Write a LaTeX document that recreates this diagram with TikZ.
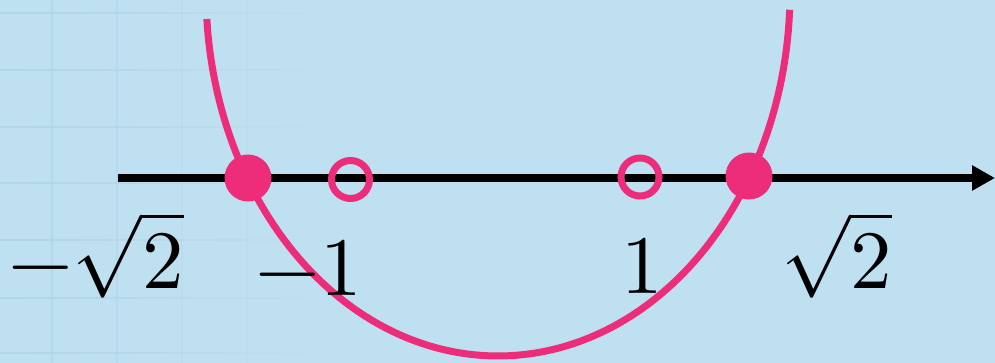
\documentclass[tikz,border=0pt]{standalone}
\usepackage{unicode-math}
\setmathfont{Latin Modern Math}
\usetikzlibrary{arrows.meta,fadings}
\definecolor{bgblue}{RGB}{191,224,241}
\definecolor{gridblue}{RGB}{178,212,232}
\definecolor{curvepink}{RGB}{238,45,122}
\tikzset{
  axisline/.style={black, line width=8pt, -{Triangle[length=23pt,width=24pt]}},
  curveline/.style={curvepink, line width=7pt},
  fulldot/.style={circle, fill=curvepink, inner sep=0pt, minimum size=47pt},
  holedot/.style={circle, draw=curvepink, line width=7pt, inner sep=0pt, minimum size=38pt},
  numlabel/.style={anchor=base, inner sep=0pt, font=\fontsize{83}{90}\selectfont},
  gridline/.style={gridblue, line width=2pt},
}
\begin{document}
\begin{tikzpicture}[x=1pt,y=-1pt]
\fill[bgblue] (0,0) rectangle (995,363);
\useasboundingbox (0,0) rectangle (995,363);
% faint background grid
\foreach \gy in {13,70,127,183,240,298,353}{
  \draw[gridline, path fading=east] (0,\gy) -- (330,\gy);
}
\draw[gridline, opacity=0.7] (52,0) -- (52,363);
\draw[gridline, opacity=0.5] (117,0) -- (117,363);
\draw[gridline, opacity=0.3] (182,0) -- (182,363);
\draw[gridline, opacity=0.12] (247,0) -- (247,363);
% curve
\draw[curveline] plot[smooth, domain=175.75:2.8, samples=90] ({498+292*cos(\x)},{-8+364*sin(\x)});
% axis
\coordinate (axL) at (118,178);
\coordinate (axR) at (995,178);
\draw[axisline] (axL) -- (axR);
% points
\node[fulldot] (pL) at (248,178) {};
\node[fulldot] (pR) at (749,176) {};
\node[holedot] (hL) at (350.5,179.5) {};
\node[holedot] (hR) at (640,177) {};
% labels
\node[numlabel] (lA) at (96,288) {$-\sqrt{2}$};
\node[numlabel] (lB) at (309,295) {$-1$};
\node[numlabel] (lC) at (642,293) {$1$};
\node[numlabel] (lD) at (837,288) {$\sqrt{2}$};
\end{tikzpicture}
\end{document}
